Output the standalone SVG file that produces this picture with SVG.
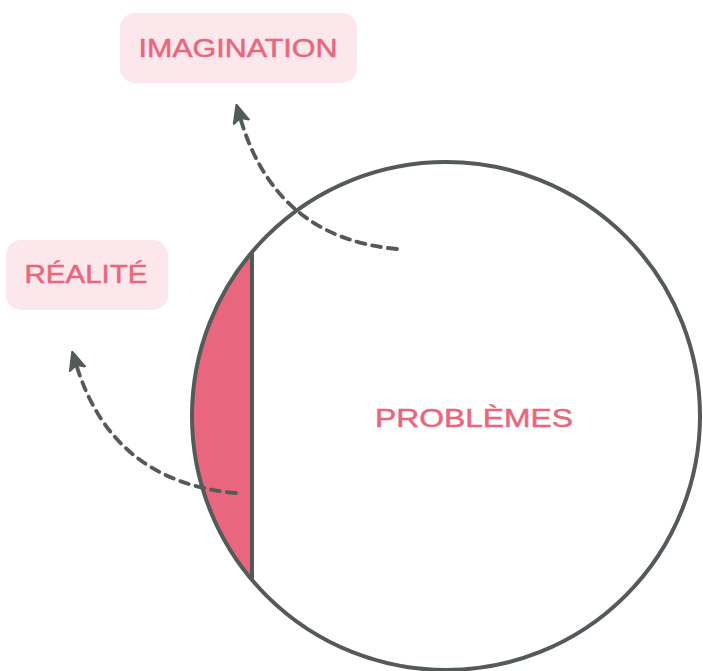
<svg xmlns="http://www.w3.org/2000/svg" width="703" height="671" viewBox="0 0 703 671">
<defs>
<style>
.box{fill:#fce8ec}
.lbl{font-family:"Liberation Sans","DejaVu Sans",sans-serif;fill:#e8677e;stroke:#e8677e;stroke-width:0.5;font-size:25px}
.conn{fill:none;stroke:#545b57;stroke-width:3.8;stroke-dasharray:9 7;stroke-linecap:round}
.ring{fill:none;stroke:#545b57;stroke-width:4}
</style>
<marker id="ah" viewBox="0 0 10 10" refX="3" refY="5" markerWidth="5.2" markerHeight="5.2" orient="auto" markerUnits="strokeWidth">
<path d="M0.5,1 L9.5,5 L0.5,9 L2.5,5 Z" fill="#545b57" stroke="#545b57" stroke-width="1" stroke-linejoin="round"/>
</marker>
</defs>
<rect width="703" height="671" fill="#ffffff"/>
<g id="problemes">
<path d="M252,252 A254,254 0 0 0 252,580 Z" fill="#e8677e"/>
<circle class="ring" cx="446" cy="416" r="254"/>
<line x1="252" y1="252" x2="252" y2="580" stroke="#545b57" stroke-width="4"/>
<text class="lbl" x="474" y="427" text-anchor="middle" textLength="198" lengthAdjust="spacingAndGlyphs">PROBLÈMES</text>
</g>
<g id="imagination">
<rect class="box" x="120" y="13" width="237" height="70" rx="15"/>
<text class="lbl" x="238" y="57" text-anchor="middle" textLength="199" lengthAdjust="spacingAndGlyphs">IMAGINATION</text>
</g>
<g id="realite">
<rect class="box" x="6" y="240" width="162" height="70" rx="15"/>
<text class="lbl" x="86" y="283" text-anchor="middle" textLength="123" lengthAdjust="spacingAndGlyphs">RÉALITÉ</text>
</g>
<g id="connectors">
<path class="conn" d="M397,249 Q275,238 240,117" marker-end="url(#ah)"/>
<path class="conn" d="M236,493 Q112,482 76,364" marker-end="url(#ah)"/>
</g>
</svg>
